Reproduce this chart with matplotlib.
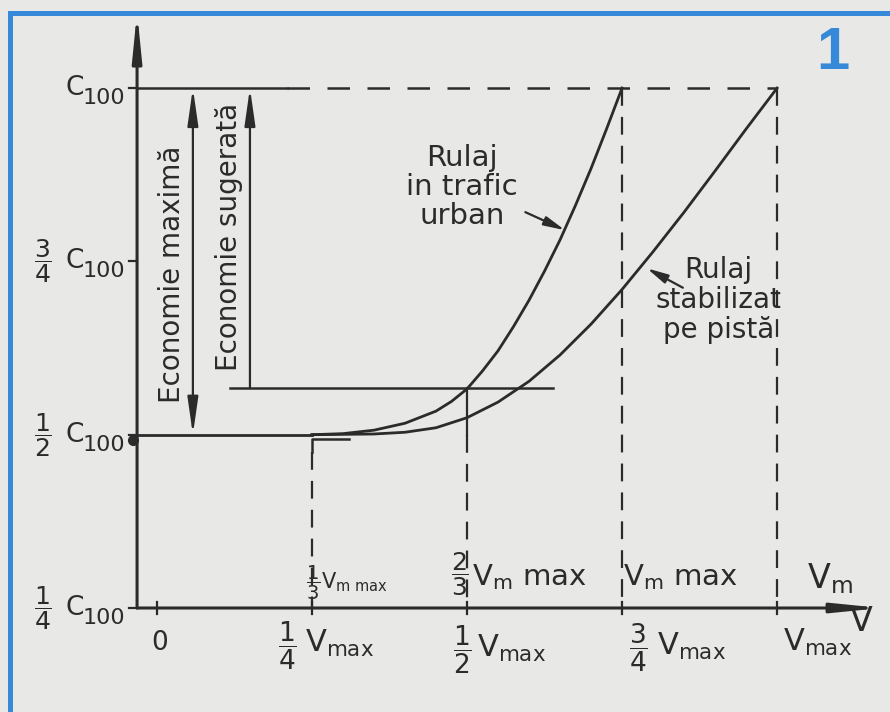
import matplotlib.pyplot as plt

plt.rcParams['font.family'] = 'DejaVu Sans'
plt.rcParams['mathtext.default'] = 'regular'

INK = '#2b2b2b'
BLUE = '#3688d8'
PAPER = '#e8e8e6'

# consumption levels (fractions of C100)
c_levels = [0.25, 0.5, 0.75, 1.0]
c_fracs = [r'$\dfrac{1}{4}$', r'$\dfrac{1}{2}$', r'$\dfrac{3}{4}$', None]

# speed marks (fractions of Vmax)
v_ticks = [0, 0.25, 0.5, 0.75, 1.0]
v_fracs = [None, r'$\dfrac{1}{4}$', r'$\dfrac{1}{2}$', r'$\dfrac{3}{4}$', None]
vm_labels = [r'$V_{m\ max}$', r'$V_m\ max$', r'$V_m\ max$']
vm_fracs = [r'$\dfrac{1}{3}$', r'$\dfrac{2}{3}$', None]

# urban traffic run
urban_v = [0.25, 0.30, 0.35, 0.40, 0.45, 0.475, 0.50, 0.525, 0.55, 0.575,
           0.60, 0.625, 0.65, 0.675, 0.70, 0.725, 0.75]
urban_c = [0.500, 0.5015, 0.5065, 0.5165, 0.534, 0.548, 0.566, 0.592, 0.621, 0.656,
           0.694, 0.736, 0.781, 0.831, 0.884, 0.941, 1.000]

# steady run on the track
pista_v = [0.25, 0.35, 0.40, 0.45, 0.50, 0.55, 0.60, 0.65, 0.70, 0.75,
           0.80, 0.85, 0.90, 0.95, 1.00]
pista_c = [0.500, 0.501, 0.5035, 0.510, 0.5245, 0.547, 0.577, 0.615, 0.6595, 0.7095,
           0.764, 0.821, 0.8805, 0.941, 1.000]

c_sugerat = 0.567

fig = plt.figure(figsize=(8.9, 7.12), dpi=100, facecolor=PAPER)
ax = fig.add_axes([0, 0, 1, 1])
ax.set_facecolor(PAPER)
ax.set_xlim(-0.253, 1.182)
ax.set_ylim(0.1, 1.127)
ax.axis('off')

x0 = -0.032  # vertical axis position

# axes with arrows
axis_kw = dict(arrowstyle='-|>,head_length=1.4,head_width=0.14', mutation_scale=20,
               color=INK, lw=2.2, shrinkA=0, shrinkB=0)
ax.annotate('', xy=(x0, 1.11), xytext=(x0, 0.25), arrowprops=axis_kw)
ax.annotate('', xy=(1.168, 0.25), xytext=(x0, 0.25), arrowprops=axis_kw)

# consumption labels: fraction, C, index
for c, fr in zip(c_levels, c_fracs):
    ax.plot([x0 - 0.013, x0], [c, c], color=INK, lw=1.6)
    if fr:
        ax.text(-0.183, c, fr, ha='center', va='center', fontsize=18, color=INK)
    ax.text(-0.132, c, 'C', ha='center', va='center', fontsize=19, color=INK)
    ax.text(-0.120, c - 0.0145, '100', ha='left', va='center', fontsize=16, color=INK)
ax.plot(x0 - 0.006, 0.493, 'o', ms=7, color=INK)

for v in v_ticks:
    ax.plot([v, v], [0.241, 0.259], color=INK, lw=1.6)

# speed labels under the axis
ax.text(0.005, 0.199, '0', ha='center', va='center', fontsize=19, color=INK)
frac_x = [None, 0.210, 0.492, 0.777, None]
frac_y = [None, 0.196, 0.189, 0.192, None]
vmax_x = [None, 0.238, 0.516, 0.806, 1.010]
vmax_y = [None, 0.199, 0.192, 0.195, 0.201]
for i in range(1, 5):
    if v_fracs[i]:
        ax.text(frac_x[i], frac_y[i], v_fracs[i], ha='center', va='center',
                fontsize=19, color=INK)
    ax.text(vmax_x[i], vmax_y[i], r'$V_{max}$', ha='left', va='center',
            fontsize=22, color=INK)
ax.text(1.136, 0.230, 'V', ha='center', va='center', fontsize=24, color=INK)

# Vm labels above the axis
ax.text(0.252, 0.286, vm_fracs[0], ha='center', va='center', fontsize=14, color=INK)
ax.text(0.264, 0.287, vm_labels[0], ha='left', va='center', fontsize=15, color=INK)
ax.text(0.488, 0.299, vm_fracs[1], ha='center', va='center', fontsize=18, color=INK)
ax.text(0.508, 0.294, vm_labels[1], ha='left', va='center', fontsize=21, color=INK)
ax.text(0.752, 0.294, vm_labels[2], ha='left', va='center', fontsize=21, color=INK)
ax.text(1.085, 0.293, r'$V_m$', ha='center', va='center', fontsize=24, color=INK)

# C100 level: solid then dashed
ax.plot([x0, 0.21], [1.0, 1.0], color=INK, lw=1.8)
ax.plot([0.21, 1.0], [1.0, 1.0], color=INK, lw=1.8, dashes=(9, 7))

# flat part at 1/2 C100
ax.plot([x0, 0.25], [0.5, 0.5], color=INK, lw=2.0)

ax.plot(urban_v, urban_c, color=INK, lw=2.0)
ax.plot(pista_v, pista_c, color=INK, lw=2.0)

# suggested economy level
ax.plot([0.118, 0.639], [c_sugerat, c_sugerat], color=INK, lw=1.8)

# guide lines down to the speed axis
ax.plot([0.5, 0.5], [c_sugerat, 0.5], color=INK, lw=1.6)
ax.plot([0.5, 0.5], [0.5, 0.25], color=INK, lw=1.6, dashes=(8, 5))
ax.plot([0.31, 0.25, 0.25], [0.494, 0.494, 0.475], color=INK, lw=1.8)
ax.plot([0.25, 0.25], [0.475, 0.25], color=INK, lw=1.6, dashes=(8, 5))
ax.plot([0.75, 0.75], [1.0, 0.25], color=INK, lw=1.6, dashes=(8, 5))
ax.plot([1.0, 1.0], [1.0, 0.25], color=INK, lw=1.6, dashes=(8, 5))

# economy arrows
ax.annotate('', xy=(0.058, 1.0), xytext=(0.058, 0.5),
            arrowprops=dict(arrowstyle='<|-|>,head_length=1.4,head_width=0.2',
                            mutation_scale=16, color=INK, lw=1.6, shrinkA=0, shrinkB=0))
ax.annotate('', xy=(0.15, 1.0), xytext=(0.15, c_sugerat),
            arrowprops=dict(arrowstyle='-|>,head_length=1.4,head_width=0.2',
                            mutation_scale=16, color=INK, lw=1.6, shrinkA=0, shrinkB=0))
ax.text(0.025, 0.732, 'Economie maximă', rotation=90, ha='center', va='center',
        fontsize=20, color=INK)
ax.text(0.116, 0.785, 'Economie sugerată', rotation=90, ha='center', va='center',
        fontsize=20, color=INK)

# curve names with pointers
ptr_kw = dict(arrowstyle='-|>,head_length=0.9,head_width=0.2', mutation_scale=14,
              color=INK, lw=1.6, shrinkA=0, shrinkB=0)
ax.text(0.492, 0.857, 'Rulaj\nin trafic\nurban', ha='center', va='center',
        fontsize=21, linespacing=1.05, color=INK)
ax.annotate('', xy=(0.658, 0.795), xytext=(0.594, 0.821), arrowprops=ptr_kw)
ax.text(0.905, 0.694, 'Rulaj\nstabilizat\npe pistă', ha='center', va='center',
        fontsize=20, linespacing=1.1, color=INK)
ax.annotate('', xy=(0.79, 0.740), xytext=(0.848, 0.712), arrowprops=ptr_kw)

# blue frame and figure number
ax.plot([10 / 890, 10 / 890], [0, 1 - 13 / 712], color=BLUE, lw=3.6,
        transform=ax.transAxes, clip_on=False)
ax.plot([10 / 890, 1], [1 - 13 / 712, 1 - 13 / 712], color=BLUE, lw=3.6,
        transform=ax.transAxes, clip_on=False)
ax.text(1.090, 1.050, '1', fontsize=43, fontweight='bold', color=BLUE,
        family='Liberation Sans', ha='center', va='center')

fig.savefig('out.png', dpi=100, facecolor=PAPER)
